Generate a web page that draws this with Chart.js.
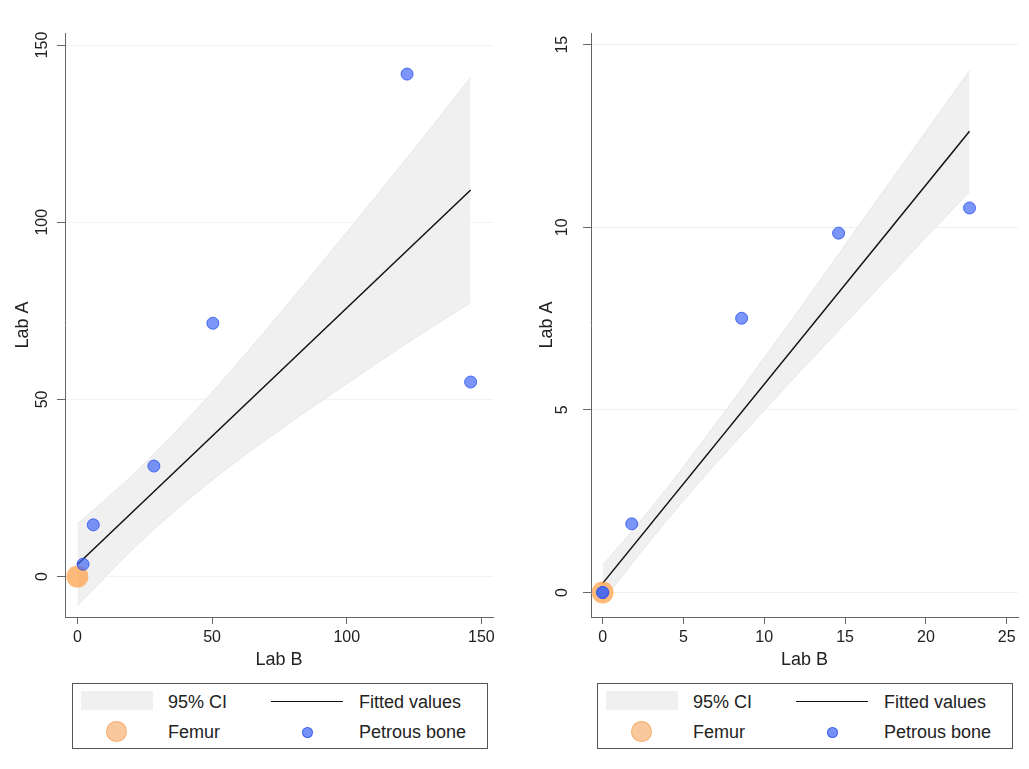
<!DOCTYPE html>
<html>
<head>
<meta charset="utf-8">
<script src="https://cdn.jsdelivr.net/npm/chart.js@4/dist/chart.umd.min.js"></script>
<style>
  html, body { margin: 0; padding: 0; background: #fff; }
  body { width: 1029px; height: 769px; position: relative; overflow: hidden;
         font-family: "Liberation Sans", Arial, Helvetica, sans-serif; color: #222; }
  canvas { position: absolute; top: 0; }
  .legend { position: absolute; top: 683px; width: 414px; height: 64px; border: 1px solid #555; background: #fff; }
  .legend .sw { position: absolute; left: 8px; top: 7px; width: 72px; height: 19px; background: #f0f0f0; }
  .legend .ln { position: absolute; left: 198px; top: 17px; width: 72px; height: 0; border-top: 1.5px solid #111; }
  .legend .fem { position: absolute; left: 33px; top: 37px; width: 19px; height: 19px; border-radius: 50%;
                 background: rgba(248,190,140,0.85); border: 1px solid rgba(245,170,100,0.9); }
  .legend .pet { position: absolute; left: 229px; top: 43px; width: 9px; height: 9px; border-radius: 50%;
                 background: rgba(60,100,245,0.7); border: 1px solid rgba(40,80,240,0.8); }
  .legend .t { position: absolute; font-size: 18px; line-height: 20px; white-space: nowrap; }
</style>
</head>
<body>
<canvas id="c1" width="510" height="680" style="left:0px"></canvas>
<canvas id="c2" width="509" height="680" style="left:520px"></canvas>

<div class="legend" style="left:72px">
  <div class="sw"></div><div class="t" style="left:95px;top:8px">95% CI</div>
  <div class="ln"></div><div class="t" style="left:286px;top:8px">Fitted values</div>
  <div class="fem"></div><div class="t" style="left:95px;top:38px">Femur</div>
  <div class="pet"></div><div class="t" style="left:286px;top:38px">Petrous bone</div>
</div>
<div class="legend" style="left:597px">
  <div class="sw"></div><div class="t" style="left:95px;top:8px">95% CI</div>
  <div class="ln"></div><div class="t" style="left:286px;top:8px">Fitted values</div>
  <div class="fem"></div><div class="t" style="left:95px;top:38px">Femur</div>
  <div class="pet"></div><div class="t" style="left:286px;top:38px">Petrous bone</div>
</div>

<script>
// ---------- Data: left panel ----------
const leftXTicks = [0, 50, 100, 150];
const leftYTicks = [0, 50, 100, 150];
const leftFemurX = [0];
const leftFemurY = [0];
const leftPetrousX = [2.1, 5.9, 28.4, 50.3, 122.4, 146.0];
const leftPetrousY = [3.5, 14.6, 31.2, 71.5, 141.8, 54.9];
const leftFitX = [0, 146.0];
const leftFitY = [3.4, 109.1];
const leftCiX = [0, 10, 20, 30, 50, 75, 100, 125, 146];
const leftCiUpper = [14.9, 21.5, 28.3, 35.8, 52.0, 74.1, 97.2, 120.6, 140.9];
const leftCiLower = [-8.1, -0.4, 7.3, 14.4, 27.2, 41.3, 54.4, 67.2, 77.3];

// ---------- Data: right panel ----------
const rightXTicks = [0, 5, 10, 15, 20, 25];
const rightYTicks = [0, 5, 10, 15];
const rightFemurX = [0];
const rightFemurY = [0];
const rightPetrousX = [0, 0, 1.8, 8.6, 14.6, 22.7];
const rightPetrousY = [0, 0, 1.88, 7.51, 9.84, 10.53];
const rightFitX = [0, 22.7];
const rightFitY = [0.25, 12.63];
const rightCiX = [0, 2, 4, 6, 8, 10, 12, 14, 16, 18, 20, 22.7];
const rightCiUpper = [0.75, 1.78, 2.87, 4.03, 5.22, 6.43, 7.65, 8.89, 10.14, 11.38, 12.62, 14.29];
const rightCiLower = [-0.25, 0.90, 1.99, 3.03, 4.02, 4.99, 5.95, 6.89, 7.84, 8.78, 9.72, 10.97];

const xTitle = 'Lab B';
const yTitle = 'Lab A';

Chart.defaults.font.family = '"Liberation Sans", Arial, Helvetica, sans-serif';
Chart.defaults.color = '#222';

const zip = (xs, ys) => xs.map((x, i) => ({ x: x, y: ys[i] }));

function makeChart(id, d, L) {
  const ctx = document.getElementById(id);
  return new Chart(ctx, {
    type: 'scatter',
    data: {
      datasets: [
        { label: '95% CI upper', data: zip(d.ciX, d.ciUp), showLine: true, fill: '+1',
          backgroundColor: '#f0f0f0', borderColor: '#e7e7e7', borderWidth: 1,
          pointRadius: 0, cubicInterpolationMode: 'monotone', order: 5 },
        { label: '95% CI lower', data: zip(d.ciX, d.ciLo), showLine: true, fill: false,
          borderColor: '#e7e7e7', borderWidth: 1, pointRadius: 0,
          cubicInterpolationMode: 'monotone', order: 4 },
        { label: 'Fitted values', data: zip(d.fitX, d.fitY), showLine: true, fill: false,
          borderColor: '#111', borderWidth: 1.5, pointRadius: 0, order: 2 },
        { label: 'Femur', data: zip(d.femX, d.femY), pointRadius: 11, pointHoverRadius: 11,
          backgroundColor: 'rgba(252,160,70,0.72)', borderColor: 'rgba(250,160,70,0.6)', borderWidth: 0, order: 1 },
        { label: 'Petrous bone', data: zip(d.petX, d.petY), pointRadius: 6, pointHoverRadius: 6,
          backgroundColor: 'rgba(60,100,245,0.68)', borderColor: 'rgba(40,80,240,0.8)', borderWidth: 1, order: 0 }
      ]
    },
    options: {
      responsive: false,
      animation: false,
      events: [],
      layout: { padding: { left: 0, top: 33, right: L.padRight, bottom: 0 } },
      plugins: { legend: { display: false }, tooltip: { enabled: false } },
      scales: {
        x: {
          type: 'linear', position: 'bottom', min: L.xMin, max: L.xMax,
          afterBuildTicks: s => { s.ticks = d.xTicks.map(v => ({ value: v })); },
          afterFit: s => { s.height = 63; },
          border: { display: true, color: '#666', width: 1 },
          grid: { drawOnChartArea: false, drawTicks: true, tickLength: 7, tickColor: '#666', tickWidth: 1 },
          ticks: { font: { size: 16 }, color: '#222', padding: 4, maxRotation: 0, minRotation: 0 },
          title: { display: true, text: xTitle, font: { size: 18 }, color: '#222', padding: { top: 0, bottom: 9 } }
        },
        y: {
          type: 'linear', position: 'left', min: L.yMin, max: L.yMax,
          afterBuildTicks: s => { s.ticks = d.yTicks.map(v => ({ value: v })); },
          afterFit: s => { s.width = L.yWidth; },
          border: { display: true, color: '#666', width: 1 },
          grid: { drawOnChartArea: true, color: L.gridColor, lineWidth: 1, drawTicks: true,
                  tickLength: 8, tickColor: '#666', tickWidth: 1 },
          ticks: { font: { size: 16 }, color: '#222', padding: L.yTickPad, minRotation: 90, maxRotation: 90,
                   crossAlign: 'center' },
          title: { display: true, text: yTitle, font: { size: 18 }, color: '#222', padding: { top: L.yTitlePad, bottom: 0 } }
        }
      }
    }
  });
}

makeChart('c1', {
  xTicks: leftXTicks, yTicks: leftYTicks,
  femX: leftFemurX, femY: leftFemurY, petX: leftPetrousX, petY: leftPetrousY,
  fitX: leftFitX, fitY: leftFitY, ciX: leftCiX, ciUp: leftCiUpper, ciLo: leftCiLower
}, { xMin: -4.6, xMax: 154.3, yMin: -11.4, yMax: 153.4, padRight: 17, yWidth: 65,
     yTickPad: 1, yTitlePad: 12, gridColor: '#f3f3f3' });

makeChart('c2', {
  xTicks: rightXTicks, yTicks: rightYTicks,
  femX: rightFemurX, femY: rightFemurY, petX: rightPetrousX, petY: rightPetrousY,
  fitX: rightFitX, fitY: rightFitY, ciX: rightCiX, ciUp: rightCiUpper, ciLo: rightCiLower
}, { xMin: -0.72, xMax: 25.7, yMin: -0.67, yMax: 15.32, padRight: 11, yWidth: 71,
     yTickPad: 12, yTitlePad: 16, gridColor: '#eef3f1' });
</script>
</body>
</html>
